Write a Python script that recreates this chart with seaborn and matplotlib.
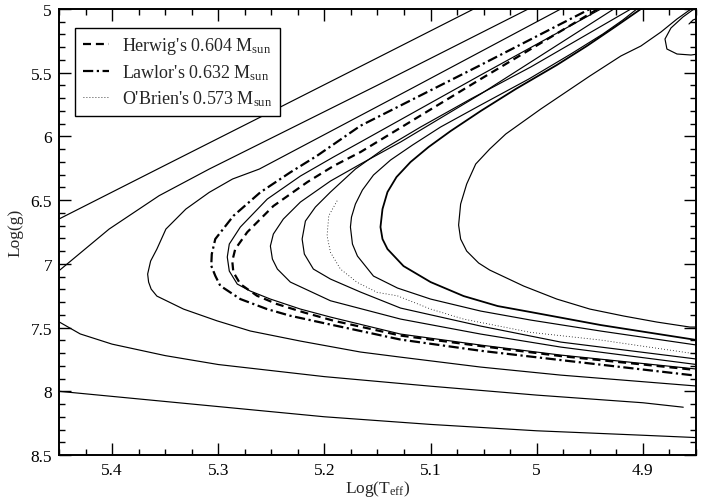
import numpy as np
import pandas as pd
import matplotlib
matplotlib.use("Agg")
import matplotlib.pyplot as plt
from matplotlib.ticker import MultipleLocator, FormatStrFormatter
import seaborn as sns

# ---------------- data (log Teff, log g) ----------------
trackA_T = [5.47, 5.45, 5.35, 5.25, 5.15, 5.0594, 5.04]
trackA_g = [6.73, 6.648, 6.226, 5.805, 5.383, 5.0, 4.92]

trackB_T = [5.47, 5.45, 5.4028, 5.3557, 5.3085, 5.2613, 5.15, 5.008, 4.99]
trackB_g = [7.22, 7.054, 6.727, 6.465, 6.256, 6.06, 5.598, 5.0, 4.92]

cool1_T = [5.46, 5.45, 5.40, 5.30, 5.20, 5.10, 5.00, 4.90, 4.845]
cool1_g = [7.99, 8.00, 8.04, 8.12, 8.20, 8.26, 8.31, 8.345, 8.365]

cool2_T = [5.46, 5.45, 5.43, 5.40, 5.35, 5.30, 5.20, 5.10, 5.00, 4.90, 4.862]
cool2_g = [7.41, 7.455, 7.55, 7.63, 7.72, 7.79, 7.885, 7.96, 8.03, 8.09, 8.125]

trackC_T = [4.96, 4.9774, 5.1189, 5.2613, 5.2865, 5.3085, 5.3305, 5.3493, 5.3578, 5.3637,
            5.3665, 5.3656, 5.3632, 5.3578, 5.3327, 5.3012, 5.2698, 5.2226, 5.166, 5.1283,
            5.0528, 4.9774, 4.849]
trackC_g = [4.92, 5.0, 5.628, 6.256, 6.334, 6.439, 6.570, 6.727, 6.884, 6.978,
            7.080, 7.143, 7.198, 7.253, 7.355, 7.447, 7.527, 7.606, 7.692, 7.732,
            7.810, 7.873, 7.959]

trackS1_T = [4.9396, 5.0528, 5.166, 5.1915, 5.2226, 5.2538, 5.2792, 5.2896, 5.2915, 5.2896,
             5.2821, 5.2698, 5.2509, 5.2226, 5.1943, 5.1283, 5.0528, 4.9774, 4.8491]
trackS1_g = [5.0, 5.5181, 6.044, 6.1617, 6.3108, 6.4914, 6.7111, 6.8446, 6.9466, 7.0565,
             7.1586, 7.2135, 7.2763, 7.3548, 7.4176, 7.551, 7.6374, 7.7159, 7.8257]

trackS2_T = [4.9274, 5.0528, 5.1283, 5.166, 5.1943, 5.2226, 5.2387, 5.2481, 5.2509, 5.249,
             5.2443, 5.2321, 5.1943, 5.1283, 5.0528, 4.9774, 4.8491]
trackS2_g = [5.0, 5.6672, 6.044, 6.2166, 6.3501, 6.5149, 6.6484, 6.7661, 6.8603, 6.9623,
             7.0408, 7.1429, 7.2896, 7.4333, 7.551, 7.6531, 7.7904]

trackS3_T = [4.9113, 5.0057, 5.0623, 5.1094, 5.1443, 5.1708, 5.1943, 5.2085, 5.2179, 5.221,
             5.2189, 5.2104, 5.1943, 5.166, 5.1283, 5.0528, 4.9774, 4.8491]
trackS3_g = [5.0, 5.4553, 5.7064, 5.9262, 6.0989, 6.2559, 6.4364, 6.5542, 6.6641, 6.8053,
             6.923, 7.0408, 7.1193, 7.2214, 7.3469, 7.4882, 7.6138, 7.7473]

trackS4_T = [4.9057, 4.9189, 4.9377, 4.9679, 5.0075, 5.0528, 5.0906, 5.117, 5.1377, 5.1538,
             5.1642, 5.1708, 5.1745, 5.1755, 5.1736, 5.1689, 5.1538, 5.1311, 5.1, 5.0528,
             5.0057, 4.9396, 4.8491]
trackS4_g = [5.0, 5.0863, 5.1962, 5.3532, 5.5495, 5.7535, 5.9262, 6.0675, 6.1852, 6.303,
             6.4207, 6.5306, 6.6327, 6.7111, 6.8446, 6.9388, 7.0958, 7.19, 7.2763, 7.3705,
             7.4411, 7.5275, 7.6374]

trackS5_T = [4.9019, 4.9264, 4.9528, 4.9811, 5.0198, 5.0528, 5.0811, 5.1019, 5.1189, 5.1321,
             5.1406, 5.1453, 5.1472, 5.1453, 5.1406, 5.1255, 5.1, 5.0689, 5.0368, 5.0057,
             4.9396, 4.8491]
trackS5_g = [5.0, 5.1413, 5.2904, 5.4396, 5.6279, 5.8006, 5.9576, 6.0832, 6.2009, 6.3187,
             6.4364, 6.5699, 6.7111, 6.8053, 6.8838, 7.0173, 7.1429, 7.2527, 7.3312, 7.3783,
             7.4804, 7.5981]

trackS6_T = [4.8547, 4.8679, 4.8830, 4.9019, 4.9208, 4.95, 4.9962, 5.0292, 5.0443, 5.0575,
             5.066, 5.0717, 5.0736, 5.0717, 5.066, 5.0547, 5.0443, 5.0123, 4.9811, 4.95,
             4.9179, 4.8868, 4.8557, 4.8481]
trackS6_g = [5.0, 5.0785, 5.1805, 5.2904, 5.3689, 5.5259, 5.7849, 5.9812, 6.0989, 6.2166,
             6.3736, 6.5306, 6.6955, 6.8053, 6.8995, 6.9937, 7.0487, 7.1743, 7.2763, 7.3548,
             7.4097, 7.4568, 7.4961, 7.4961]

loop_T = [4.8519, 4.8623, 4.8736, 4.8792, 4.8774, 4.8679, 4.8547, 4.8481]
loop_g = [5.0, 5.0628, 5.1491, 5.2355, 5.314, 5.3532, 5.3611, 5.3532]

hook_T = [4.8566, 4.8528, 4.8481]
hook_g = [5.1177, 5.0864, 5.0707]

# Herwig's 0.604 Msun (dashed)
herwig_T = [4.9425, 5.0528, 5.166, 5.1915, 5.216, 5.2481, 5.2726, 5.284, 5.2868, 5.2858,
            5.2792, 5.2635, 5.2446, 5.2195, 5.1912, 5.1283, 5.0528, 4.9774, 4.8491]
herwig_g = [5.0, 5.5495, 6.1225, 6.2323, 6.3579, 6.5463, 6.7504, 6.8838, 6.978, 7.0644,
            7.1586, 7.2504, 7.3156, 7.3807, 7.4466, 7.5628, 7.6452, 7.7237, 7.8336]

# Lawlor's 0.632 Msun (dash-dot)
lawlor_T = [4.94, 4.95, 5.0528, 5.166, 5.2069, 5.2321, 5.2604, 5.2856, 5.3028, 5.3061,
            5.3066, 5.3028, 5.2981, 5.2792, 5.2541, 5.2321, 5.2007, 5.1283, 5.0528, 4.9774, 4.849]
lawlor_g = [4.94, 5.0, 5.4396, 5.916, 6.1515, 6.2818, 6.4388, 6.6224, 6.8053, 6.923,
            7.0149, 7.0934, 7.1719, 7.2763, 7.3548, 7.4074, 7.4647, 7.5942, 7.6821, 7.7551, 7.8783]

# O'Brien's 0.573 Msun (dotted)
obrien_T = [5.188, 5.1959, 5.1975, 5.1943, 5.1849, 5.1692, 5.1503, 5.1314, 5.1, 5.0689,
            5.0371, 5.0057, 4.9396, 4.8491]
obrien_g = [6.5047, 6.6224, 6.7794, 6.9097, 7.0408, 7.1452, 7.2237, 7.2504, 7.3548, 7.4333,
            7.4859, 7.5377, 7.5981, 7.708]

legend_labels = [r"Herwig's 0.604 M$_{\mathrm{sun}}$",
                 r"Lawlor's 0.632 M$_{\mathrm{sun}}$",
                 r"O'Brien's 0.573 M$_{\mathrm{sun}}$"]

x_label = r"Log(T$_{\mathrm{eff}}$)"
y_label = "Log(g)"

# ---------------- style ----------------
sns.set_theme(style="ticks")
plt.rcParams["font.family"] = ["Liberation Serif", "DejaVu Serif"]
plt.rcParams["mathtext.fontset"] = "custom"
plt.rcParams["mathtext.rm"] = "Liberation Serif"
plt.rcParams["mathtext.it"] = "Liberation Serif:italic"
plt.rcParams["mathtext.bf"] = "Liberation Serif:bold"

fig = plt.figure(figsize=(7.16, 5.02), dpi=100)
ax = fig.add_axes([59 / 716, 46 / 502, 637 / 716, 446 / 502])


def draw(T, g, lw=0.85, ls="-", label=None):
    df = pd.DataFrame({"logT": T, "logg": g})
    sns.lineplot(data=df, x="logT", y="logg", sort=False, estimator=None,
                 color="black", lw=lw, linestyle=ls, ax=ax, label=label,
                 legend=False)
    return ax.lines[-1]


for T, g in [(trackA_T, trackA_g), (trackB_T, trackB_g), (cool1_T, cool1_g),
             (cool2_T, cool2_g), (trackC_T, trackC_g), (trackS1_T, trackS1_g),
             (trackS2_T, trackS2_g), (trackS3_T, trackS3_g), (trackS4_T, trackS4_g),
             (trackS6_T, trackS6_g), (loop_T, loop_g), (hook_T, hook_g)]:
    draw(T, g)
draw(trackS5_T, trackS5_g, lw=1.3)

h1 = draw(herwig_T, herwig_g, lw=1.6, ls=(0, (3.6, 2.2)), label=legend_labels[0])
h2 = draw(lawlor_T, lawlor_g, lw=1.6, ls=(0, (4.6, 1.6, 1.0, 1.6)), label=legend_labels[1])
h3 = draw(obrien_T, obrien_g, lw=0.6, ls=(0, (1.0, 2.6)), label=legend_labels[2])

ax.set_xlim(5.45, 4.85)
ax.set_ylim(8.5, 5.0)

ax.xaxis.set_major_locator(MultipleLocator(0.1))
ax.xaxis.set_minor_locator(MultipleLocator(0.025))
ax.yaxis.set_major_locator(MultipleLocator(0.5))
ax.yaxis.set_minor_locator(MultipleLocator(0.1))
ax.xaxis.set_major_formatter(FormatStrFormatter("%g"))
ax.yaxis.set_major_formatter(FormatStrFormatter("%g"))

ax.tick_params(which="both", direction="in", top=True, right=True, colors="black",
               labelsize=12.5)
ax.tick_params(which="major", length=8.5, width=1.0, pad=5)
ax.tick_params(which="minor", length=4.5, width=1.0)
for s in ax.spines.values():
    s.set_linewidth(1.4)
    s.set_color("black")

ax.set_xlabel(x_label, fontsize=12.5, labelpad=2)
ax.set_ylabel(y_label, fontsize=12.5, labelpad=2)
ax.xaxis.set_label_coords(0.5, -0.052)
ax.yaxis.set_label_coords(-0.056, 0.5)

leg = ax.legend(handles=[h1, h2, h3], loc="upper left", bbox_to_anchor=(0.025, 0.958),
                borderaxespad=0, frameon=True, fancybox=False, shadow=False,
                fontsize=13, handlelength=1.45, handletextpad=0.72, labelspacing=0.35,
                borderpad=0.42)
leg.get_frame().set_edgecolor("black")
leg.get_frame().set_linewidth(1.0)
leg.get_frame().set_facecolor("white")
leg.get_frame().set_alpha(1)

fig.savefig("out.png", dpi=100)
